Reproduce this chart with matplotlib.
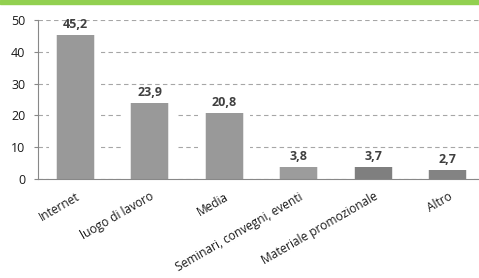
import matplotlib
matplotlib.use("Agg")
import matplotlib.pyplot as plt
from matplotlib.patches import Rectangle

categories = ["Internet", "luogo di lavoro", "Media", "Seminari, convegni, eventi",
              "Materiale promozionale", "Altro"]
values = [45.2, 23.9, 20.8, 3.8, 3.7, 2.7]
labels = ["45,2", "23,9", "20,8", "3,8", "3,7", "2,7"]
colors = ["#999999", "#999999", "#999999", "#9c9c9c", "#7f7f7f", "#838383"]
yticks = [0, 10, 20, 30, 40, 50]

plt.rcParams['font.family'] = ['Open Sans', 'DejaVu Sans']

fig = plt.figure(figsize=(4.79, 2.78), dpi=100)
fig.patches.append(Rectangle((0, 1 - 4/278), 1, 4/278, transform=fig.transFigure,
                             color="#92d050", zorder=0))
ax = fig.add_axes([38/479, 99/278, 447/479, 159/278])
x = list(range(len(categories)))

ax.set_ylim(0, 50)
ax.set_xlim(-0.5, len(categories) - 0.5)
ax.yaxis.grid(True, linestyle=(0, (4, 3)), color="#a6a6a6", linewidth=0.8, zorder=0)
ax.set_axisbelow(True)

ax.bar(x, values, width=0.70, color="white", zorder=1)
ax.bar(x, values, width=0.53, color="#e4e4e4", zorder=2)
ax.bar(x, values, width=0.49, color=colors, zorder=3)

for xi, v, lab in zip(x, values, labels):
    ax.annotate(lab, (xi, v), xytext=(0, 3), textcoords="offset points",
                ha="center", va="bottom", fontsize=9, fontweight="bold",
                color="#404040", zorder=4)

ax.set_yticks(yticks)
ax.set_yticklabels([str(t) for t in yticks], fontsize=9, color="#1a1a1a")
ax.set_xticks(x)
ax.set_xticklabels(categories, rotation=30, ha="right", rotation_mode="anchor",
                   fontsize=8.6, color="#1a1a1a")
ax.tick_params(axis="x", length=0, pad=8)
ax.tick_params(axis="y", length=3, color="#888888", pad=6)

for s in ["top", "right"]:
    ax.spines[s].set_visible(False)
ax.spines["left"].set_color("#888888")
ax.spines["bottom"].set_color("#888888")
ax.spines["left"].set_zorder(5)
ax.spines["bottom"].set_zorder(5)

fig.savefig("out.png", dpi=100)
